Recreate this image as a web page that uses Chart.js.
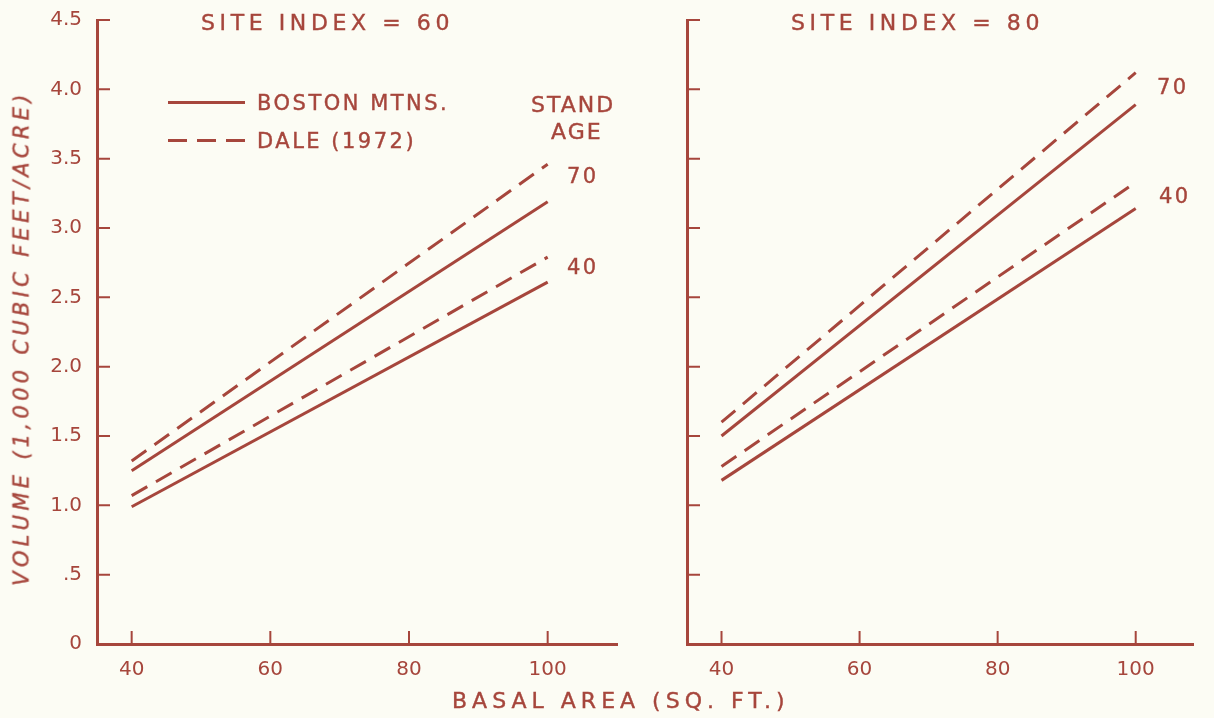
<html>
<head>
<script src="https://cdn.jsdelivr.net/npm/chart.js@4.4.0/dist/chart.umd.min.js"></script>
<style>
  body { margin:0; background:#fcfcf4; width:1214px; height:718px; overflow:hidden; position:relative;
         font-family:"DejaVu Sans", sans-serif; color:#a6463c; }
  .box { position:absolute; top:0; height:718px; }
  .lbl { position:absolute; white-space:nowrap; font-size:21px; letter-spacing:2.5px; line-height:1;
         -webkit-text-stroke:0.4px #a6463c; }
  .solid { position:absolute; height:3px; background:#a6463c; }
  .dash { position:absolute; height:3px;
          background:repeating-linear-gradient(90deg, #a6463c 0 19px, transparent 19px 29px); }
  #ytitle { position:absolute; left:22px; top:338px; transform:translate(-50%,-50%) rotate(-90deg);
            font-style:italic; font-size:21px; letter-spacing:4.3px; white-space:nowrap; line-height:1;
            -webkit-text-stroke:0.4px #a6463c; }
</style>
</head>
<body>
<div class="box" style="left:0;width:640px;"><canvas id="left"></canvas></div>
<div class="box" style="left:640px;width:574px;"><canvas id="right"></canvas></div>

<div class="lbl" style="left:201px;top:12px;font-size:22px;letter-spacing:4.6px;">SITE INDEX = 60</div>
<div class="lbl" style="left:791px;top:12px;font-size:22px;letter-spacing:4.6px;">SITE INDEX = 80</div>

<div class="solid" style="left:168px;top:101px;width:77px;"></div>
<div class="lbl" style="left:257px;top:93px;">BOSTON MTNS.</div>
<div class="dash" style="left:168px;top:139px;width:77px;"></div>
<div class="lbl" style="left:257px;top:131px;">DALE (1972)</div>

<div class="lbl" style="left:531px;top:94px;font-size:22px;letter-spacing:2px;">STAND</div>
<div class="lbl" style="left:551px;top:121px;font-size:22px;letter-spacing:2px;">AGE</div>
<div class="lbl" style="left:567px;top:166px;">70</div>
<div class="lbl" style="left:567px;top:257px;">40</div>
<div class="lbl" style="left:1157px;top:77px;">70</div>
<div class="lbl" style="left:1159px;top:186px;">40</div>

<div class="lbl" style="left:452px;top:690px;font-size:22px;letter-spacing:5px;">BASAL AREA (SQ. FT.)</div>
<div id="ytitle">VOLUME (1,000 CUBIC FEET/ACRE)</div>

<script>
// basal area (sq. ft.) at the ends of each line
var basal = [40, 100];
var xTicks = [40, 60, 80, 100];
var yTicks = [0.5, 1.0, 1.5, 2.0, 2.5, 3.0, 3.5, 4.0, 4.5];

// site index 60
var si60Boston70 = [1.25, 3.19];
var si60Dale70   = [1.32, 3.46];
var si60Boston40 = [0.99, 2.61];
var si60Dale40   = [1.07, 2.79];

// site index 80
var si80Boston70 = [1.50, 3.89];
var si80Dale70   = [1.60, 4.12];
var si80Boston40 = [1.18, 3.14];
var si80Dale40   = [1.28, 3.33];

var ink = '#a6463c';

function pts(vals) {
  var out = [];
  for (var i = 0; i < basal.length; i++) out.push({x: basal[i], y: vals[i]});
  return out;
}

function ds(vals, dashed) {
  return {
    data: pts(vals),
    borderColor: ink,
    borderWidth: 3,
    borderDash: dashed ? [18, 10] : [],
    borderCapStyle: 'butt',
    pointRadius: 0,
    fill: false
  };
}

// ticks drawn inward, like the original
var innerTicks = {
  id: 'innerTicks',
  afterDatasetsDraw: function(chart) {
    var c = chart.ctx, xs = chart.scales.x, ys = chart.scales.y;
    c.save();
    c.strokeStyle = ink;
    c.lineWidth = 2;
    c.beginPath();
    yTicks.forEach(function(v) {
      var p = ys.getPixelForValue(v);
      c.moveTo(xs.left, p); c.lineTo(xs.left + 13, p);
    });
    xTicks.forEach(function(v) {
      var p = xs.getPixelForValue(v);
      c.moveTo(p, ys.bottom); c.lineTo(p, ys.bottom - 13);
    });
    c.stroke();
    c.restore();
  }
};

function makeChart(id, sets, yWidth, showLabels, rightPad, xMax) {
  new Chart(document.getElementById(id), {
    type: 'line',
    data: { datasets: sets },
    plugins: [innerTicks],
    options: {
      responsive: true,
      maintainAspectRatio: false,
      animation: false,
      layout: { padding: { top: 20, right: rightPad, bottom: 0, left: 0 } },
      plugins: { legend: { display: false }, tooltip: { enabled: false } },
      scales: {
        x: {
          type: 'linear', min: 35, max: xMax,
          afterBuildTicks: function(s) { s.ticks = xTicks.map(function(v) { return {value: v}; }); },
          afterFit: function(s) { s.height = 74; },
          grid: { display: false },
          border: { display: true, color: ink, width: 3 },
          ticks: { color: ink, padding: 6, font: { family: 'DejaVu Sans', size: 20 } }
        },
        y: {
          min: 0, max: 4.5,
          afterBuildTicks: function(s) { s.ticks = [0].concat(yTicks).map(function(v) { return {value: v}; }); },
          afterFit: function(s) { s.width = yWidth; },
          grid: { display: false },
          border: { display: true, color: ink, width: 3 },
          ticks: {
            display: showLabels, color: ink, padding: 7,
            font: { family: 'DejaVu Sans', size: 20 },
            callback: function(v) { return v === 0 ? '0' : (v === 0.5 ? '.5' : v.toFixed(1)); }
          }
        }
      }
    }
  });
}

makeChart('left', [ds(si60Boston70, false), ds(si60Dale70, true), ds(si60Boston40, false), ds(si60Dale40, true)], 97, true, 23, 110);
makeChart('right', [ds(si80Boston70, false), ds(si80Dale70, true), ds(si80Boston40, false), ds(si80Dale40, true)], 47, false, 21, 108.3);
</script>
</body>
</html>
